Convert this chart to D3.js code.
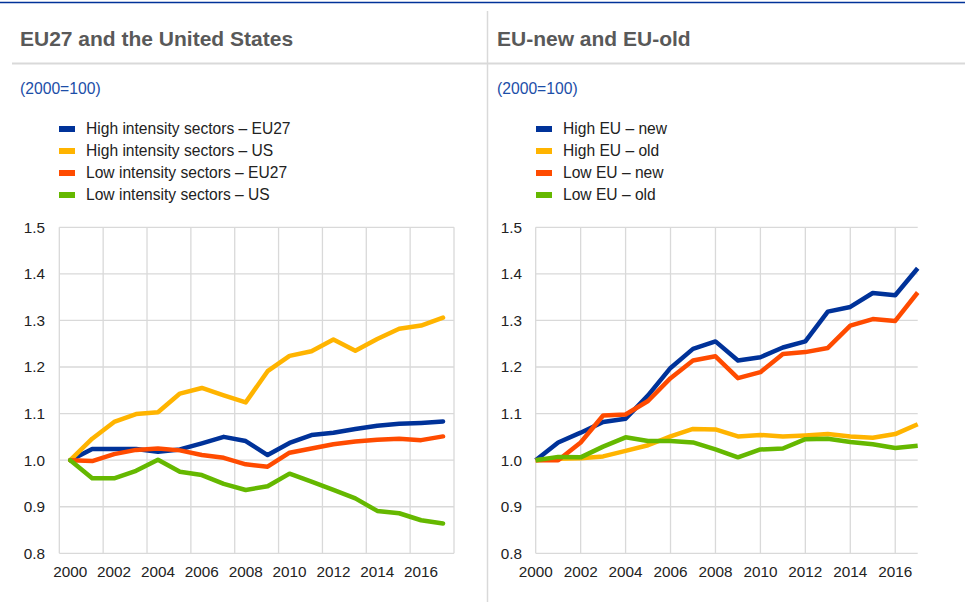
<!DOCTYPE html>
<html><head><meta charset="utf-8">
<script src="https://cdn.jsdelivr.net/npm/d3@7"></script>
<style>
body{margin:0;background:#fff;}
svg{display:block;font-family:"Liberation Sans",Arial,sans-serif;}
</style></head>
<body>
<svg id="chart" width="965" height="602"></svg>
<script>
const years = d3.range(2000, 2018);
const tickYears = [2000,2002,2004,2006,2008,2010,2012,2014,2016];
const yTicks = [0.8,0.9,1.0,1.1,1.2,1.3,1.4,1.5];
const colors = ["#003299","#FFB400","#FF4B00","#65B800"];

const leftTitle = "EU27 and the United States";
const rightTitle = "EU-new and EU-old";
const unitLabel = "(2000=100)";
const leftNames = ["High intensity sectors – EU27","High intensity sectors – US","Low intensity sectors – EU27","Low intensity sectors – US"];
const rightNames = ["High EU – new","High EU – old","Low EU – new","Low EU – old"];

const highEU27 = [1.0,1.024,1.024,1.024,1.018,1.023,1.036,1.05,1.041,1.011,1.037,1.054,1.059,1.067,1.074,1.078,1.08,1.083];
const highUS   = [1.0,1.046,1.082,1.099,1.103,1.143,1.155,1.139,1.124,1.191,1.224,1.234,1.259,1.235,1.26,1.282,1.289,1.306];
const lowEU27  = [1.0,0.998,1.013,1.022,1.025,1.021,1.011,1.005,0.991,0.986,1.016,1.025,1.034,1.04,1.044,1.046,1.043,1.051];
const lowUS    = [1.0,0.961,0.961,0.977,1.001,0.975,0.968,0.949,0.936,0.944,0.971,0.954,0.936,0.918,0.891,0.886,0.871,0.864];

const highNew = [1.0,1.038,1.059,1.082,1.089,1.139,1.198,1.239,1.255,1.214,1.221,1.242,1.255,1.319,1.329,1.359,1.354,1.412];
const highOld = [1.0,1.003,1.004,1.008,1.02,1.032,1.051,1.067,1.066,1.051,1.054,1.051,1.053,1.056,1.051,1.048,1.056,1.077];
const lowNew  = [1.0,1.0,1.038,1.096,1.098,1.127,1.176,1.214,1.223,1.176,1.189,1.228,1.232,1.241,1.289,1.303,1.299,1.36];
const lowOld  = [1.0,1.007,1.006,1.029,1.049,1.041,1.041,1.038,1.023,1.006,1.023,1.025,1.045,1.046,1.039,1.034,1.026,1.031];

const svg = d3.select("#chart");
const gridColor = "#d9d9d9";

// frame lines
svg.append("line").attr("x1",0).attr("x2",965).attr("y1",2.5).attr("y2",2.5).attr("stroke","#003299").attr("stroke-width",1.5);
svg.append("line").attr("x1",487.5).attr("x2",487.5).attr("y1",11).attr("y2",602).attr("stroke",gridColor).attr("stroke-width",1.5);
svg.append("line").attr("x1",12).attr("x2",965).attr("y1",63.5).attr("y2",63.5).attr("stroke",gridColor).attr("stroke-width",2);

const y = d3.scaleLinear().domain([0.8,1.5]).range([553.3,227.3]);

function header(x0, title, names, legendX){
  svg.append("text").attr("x",x0).attr("y",46).attr("font-size",21).attr("font-weight","bold").attr("fill","#595959").text(title);
  svg.append("text").attr("x",x0).attr("y",94).attr("font-size",15.7).attr("fill","#1c4ea8").text(unitLabel);
  const lg = svg.append("g");
  names.forEach((n,i)=>{
    const cy = 129 + i*22;
    lg.append("rect").attr("x",legendX).attr("y",cy-3).attr("width",16).attr("height",6).attr("fill",colors[i]);
    lg.append("text").attr("x",legendX+27).attr("y",cy).attr("dy","0.35em").attr("font-size",15.6).attr("fill","#222").text(n);
  });
}
header(20, leftTitle, leftNames, 59);
header(497, rightTitle, rightNames, 536);

function yAxis(x0, x1, labelX){
  const g = svg.append("g");
  g.selectAll("line.h").data(yTicks).join("line")
    .attr("x1",x0).attr("x2",x1).attr("y1",d=>y(d)).attr("y2",d=>y(d))
    .attr("stroke",gridColor).attr("stroke-width",1.3);
  g.selectAll("text").data(yTicks).join("text")
    .attr("x",labelX).attr("y",d=>y(d)).attr("dy","0.35em").attr("text-anchor","end")
    .attr("font-size",15.3).attr("fill","#222").text(d=>d.toFixed(1));
}

// Left chart: band (category) axis
const xb = d3.scaleBand().domain(years).range([59.3,454]);
yAxis(59.3,454,45);
const lg = svg.append("g");
const bounds = d3.range(0, 19, 2).map(i => 59.3 + i*xb.bandwidth());
lg.selectAll("line.v").data(bounds).join("line")
  .attr("x1",d=>d).attr("x2",d=>d).attr("y1",y(1.5)).attr("y2",y(0.8))
  .attr("stroke",gridColor).attr("stroke-width",1.3);
lg.selectAll("text").data(tickYears).join("text")
  .attr("x",d=>xb(d)+xb.bandwidth()/2).attr("y",577).attr("text-anchor","middle")
  .attr("font-size",15.3).attr("fill","#222").text(d=>d);
const lineL = d3.line().x((d,i)=>xb(years[i])+xb.bandwidth()/2).y(d=>y(d));
[highEU27, highUS, lowEU27, lowUS].forEach((s,i)=>{
  svg.append("path").datum(s).attr("d",lineL).attr("fill","none")
    .attr("stroke",colors[i]).attr("stroke-width",4.5).attr("stroke-linejoin","round").attr("stroke-linecap","round");
});

// Right chart: linear axis
const xl = d3.scaleLinear().domain([2000,2017]).range([535.7,917.7]);
yAxis(535.7,917.7,522);
const rg = svg.append("g");
rg.selectAll("line.v").data(tickYears).join("line")
  .attr("x1",d=>xl(d)).attr("x2",d=>xl(d)).attr("y1",y(1.5)).attr("y2",y(0.8))
  .attr("stroke",gridColor).attr("stroke-width",1.3);
rg.selectAll("text").data(tickYears).join("text")
  .attr("x",d=>xl(d)).attr("y",577).attr("text-anchor","middle")
  .attr("font-size",15.3).attr("fill","#222").text(d=>d);
const lineR = d3.line().x((d,i)=>xl(years[i])).y(d=>y(d));
[highNew, highOld, lowNew, lowOld].forEach((s,i)=>{
  svg.append("path").datum(s).attr("d",lineR).attr("fill","none")
    .attr("stroke",colors[i]).attr("stroke-width",4.5).attr("stroke-linejoin","round").attr("stroke-linecap","butt");
});
</script>
</body></html>
